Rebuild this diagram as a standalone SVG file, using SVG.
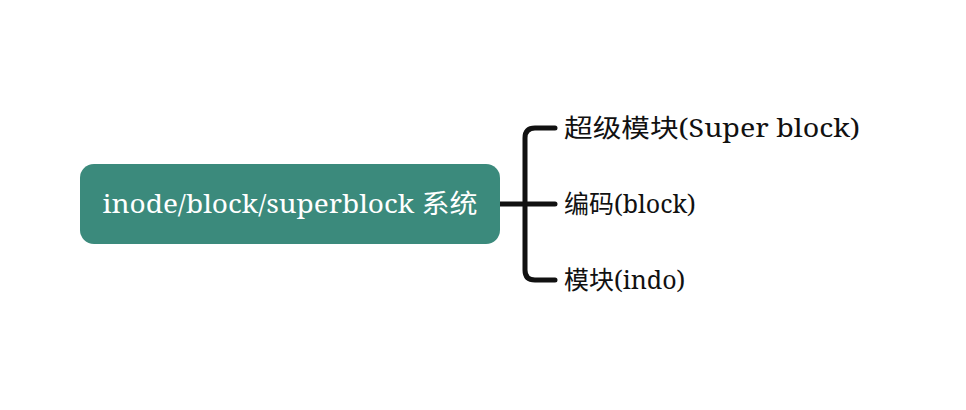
<svg xmlns="http://www.w3.org/2000/svg" width="966" height="410" viewBox="0 0 966 410">
<style>
.t{font-family:"Noto Serif","Liberation Serif","Noto Sans CJK SC",serif;font-size:25px;fill:#111}
.c{fill:none;stroke:#111;stroke-width:5;stroke-linecap:round}
</style>
<rect width="966" height="410" fill="#fff"/>
<g id="connectors">
<path class="c" d="M500 204H555M525 204V138Q525 128 535 128H555M525 204V270Q525 280 535 280H555"/>
</g>
<g id="root">
<rect x="80" y="164" width="420" height="80" rx="14" fill="#3b8a7c"/>
<text x="290" y="213" text-anchor="middle" font-family="Noto Serif,Liberation Serif,Noto Sans CJK SC,serif" font-size="26" fill="#fff" textLength="375" lengthAdjust="spacingAndGlyphs">inode/block/superblock 系统</text>
</g>
<g id="n1"><text class="t" x="564" y="137" textLength="296" lengthAdjust="spacingAndGlyphs">超级模块(Super  block)</text></g>
<g id="n2"><text class="t" x="564" y="213">编码(block)</text></g>
<g id="n3"><text class="t" x="564" y="289">模块(indo)</text></g>
</svg>
